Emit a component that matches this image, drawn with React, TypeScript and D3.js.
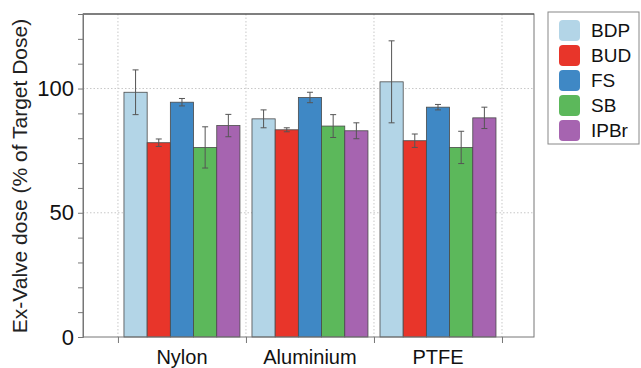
import React, { useRef, useEffect } from 'react';
import * as d3 from 'd3';

const categories = ['Nylon', 'Aluminium', 'PTFE'];
const series = ['BDP', 'BUD', 'FS', 'SB', 'IPBr'];
const colors = ['#b3d5e7', '#e8352a', '#3f88c5', '#5cb85b', '#a664b0'];

// mean values per series, one entry per category
const means = [
  [98.5, 87.8, 102.7],
  [78.2, 83.4, 79.0],
  [94.5, 96.4, 92.5],
  [76.3, 84.9, 76.3],
  [85.1, 83.0, 88.2],
];
const errors = [
  [9.0, 3.6, 16.5],
  [1.5, 0.8, 2.7],
  [1.5, 2.1, 1.1],
  [8.3, 4.6, 6.5],
  [4.5, 3.2, 4.3],
];
const yMajorTicks = [0, 50, 100];

const App = () => {
  const svgRef = useRef(null);

  useEffect(() => {
    const svg = d3.select(svgRef.current);
    svg.selectAll('*').remove();

    const left = 83, right = 534, top = 14, bottom = 337;
    const font = 'Liberation Sans, Arial, sans-serif';

    const x = d3.scaleLinear().domain([0.227, 3.75]).range([left, right]);
    const y = d3.scaleLinear().domain([0, 130]).range([bottom, top]);
    const groupW = 0.906;
    const inner = d3.scaleBand().domain(series).range([-groupW / 2, groupW / 2]);

    // gridlines
    const grid = svg.append('g');
    grid.selectAll('line.v')
      .data([0.5, 1.5, 2.5, 3.5])
      .join('line')
      .attr('x1', d => x(d)).attr('x2', d => x(d))
      .attr('y1', top).attr('y2', bottom)
      .attr('stroke', '#c8c8c8').attr('stroke-width', 1)
      .attr('stroke-dasharray', '1.5,2');
    grid.selectAll('line.h')
      .data([50, 100])
      .join('line')
      .attr('x1', left).attr('x2', right)
      .attr('y1', d => y(d)).attr('y2', d => y(d))
      .attr('stroke', '#c8c8c8').attr('stroke-width', 1)
      .attr('stroke-dasharray', '1.5,2');

    // bars
    const rows = [];
    series.forEach((s, si) => {
      categories.forEach((c, ci) => {
        rows.push({ s, si, ci, v: means[si][ci], e: errors[si][ci] });
      });
    });

    svg.append('g')
      .selectAll('rect')
      .data(rows)
      .join('rect')
      .attr('x', d => x(d.ci + 1 + inner(d.s)))
      .attr('width', d => x(d.ci + 1 + inner(d.s) + inner.bandwidth()) - x(d.ci + 1 + inner(d.s)))
      .attr('y', d => y(d.v))
      .attr('height', d => y(0) - y(d.v))
      .attr('fill', d => colors[d.si])
      .attr('stroke', '#4a4a4a')
      .attr('stroke-width', 0.8);

    // error bars
    const eb = svg.append('g').attr('stroke', '#555').attr('stroke-width', 1);
    const cx = d => x(d.ci + 1 + inner(d.s) + inner.bandwidth() / 2);
    eb.selectAll('line.stem')
      .data(rows)
      .join('line')
      .attr('x1', cx).attr('x2', cx)
      .attr('y1', d => y(d.v + d.e)).attr('y2', d => y(d.v - d.e));
    eb.selectAll('line.cap-top')
      .data(rows)
      .join('line')
      .attr('x1', d => cx(d) - 3).attr('x2', d => cx(d) + 3)
      .attr('y1', d => y(d.v + d.e)).attr('y2', d => y(d.v + d.e));
    eb.selectAll('line.cap-bot')
      .data(rows)
      .join('line')
      .attr('x1', d => cx(d) - 3).attr('x2', d => cx(d) + 3)
      .attr('y1', d => y(d.v - d.e)).attr('y2', d => y(d.v - d.e));

    // frame
    svg.append('rect')
      .attr('x', left).attr('y', top)
      .attr('width', right - left).attr('height', bottom - top)
      .attr('fill', 'none').attr('stroke', '#777').attr('stroke-width', 1);
    svg.append('line')
      .attr('x1', left).attr('x2', right).attr('y1', top).attr('y2', top)
      .attr('stroke', '#444').attr('stroke-width', 1.2);

    // y axis
    const yAxis = svg.append('g')
      .attr('transform', `translate(${left},0)`)
      .call(d3.axisLeft(y).tickValues(d3.range(0, 131, 10)).tickSize(5).tickFormat(d => yMajorTicks.includes(d) ? String(d) : ''))
      .attr('font-family', font).attr('font-size', 22);
    yAxis.select('.domain').attr('stroke', '#777');
    yAxis.selectAll('.tick line').attr('stroke', '#777');
    yAxis.selectAll('.tick text').attr('fill', '#111').attr('x', -9);

    // x axis
    const xAxis = svg.append('g')
      .attr('transform', `translate(0,${bottom})`)
      .call(d3.axisBottom(x).tickValues([0.5, 1.5, 2.5, 3.5]).tickSize(6).tickFormat(() => ''));
    xAxis.select('.domain').remove();
    xAxis.selectAll('.tick line').attr('stroke', '#777');

    svg.append('g')
      .selectAll('text')
      .data(categories)
      .join('text')
      .attr('x', (d, i) => x(i + 1))
      .attr('y', 364)
      .attr('text-anchor', 'middle')
      .attr('font-family', font).attr('font-size', 20)
      .attr('fill', '#111')
      .text(d => d);

    svg.append('text')
      .attr('transform', `translate(27,${176}) rotate(-90)`)
      .attr('text-anchor', 'middle')
      .attr('font-family', font).attr('font-size', 21)
      .attr('fill', '#222')
      .text('Ex-Valve dose (% of Target Dose)');

    // legend
    const lg = svg.append('g');
    lg.append('rect')
      .attr('x', 548).attr('y', 12).attr('width', 91).attr('height', 132)
      .attr('fill', '#fff').attr('stroke', '#888').attr('stroke-width', 1);
    const items = lg.selectAll('g.item')
      .data(series)
      .join('g')
      .attr('transform', (d, i) => `translate(559,${20 + i * 25})`);
    items.append('rect')
      .attr('width', 21).attr('height', 21).attr('rx', 4)
      .attr('fill', (d, i) => colors[i]);
    items.append('text')
      .attr('x', 32).attr('y', 17)
      .attr('font-family', font).attr('font-size', 19)
      .attr('fill', '#111')
      .text(d => d);
  }, []);

  return (
    <svg ref={svgRef} width={641} height={368} style={{ position: 'absolute', left: 0, top: 0, background: '#fff' }}>
    </svg>
  );
};

export default App;
